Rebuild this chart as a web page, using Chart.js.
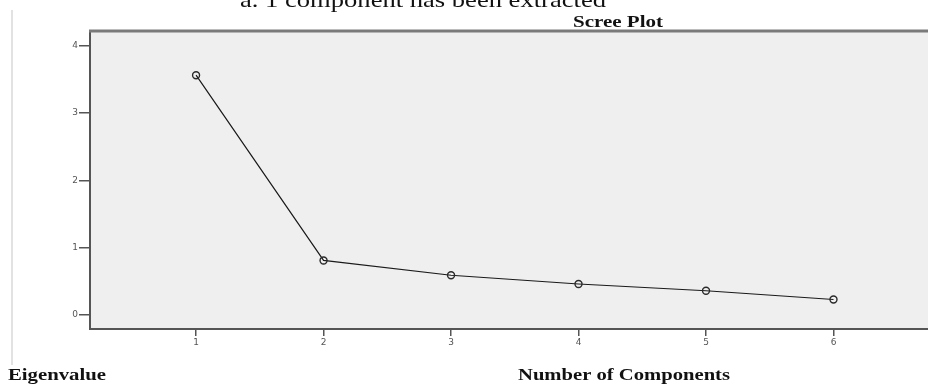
<!DOCTYPE html>
<html>
<head>
<meta charset="utf-8">
<script src="https://cdn.jsdelivr.net/npm/chart.js@4/dist/chart.umd.min.js"></script>
<style>
  html, body { margin: 0; padding: 0; background: #ffffff; }
  #wrap { position: relative; width: 928px; height: 390px; }
</style>
</head>
<body>
<div id="wrap"><canvas id="c" width="928" height="390"></canvas></div>
<script>
// ---- data ----
const components = [1, 2, 3, 4, 5, 6];
const eigenvalues = [3.56, 0.81, 0.59, 0.46, 0.36, 0.23];
const yTicks = [0, 1, 2, 3, 4];
const xTicks = [1, 2, 3, 4, 5, 6];
const noteText = "a. 1 component has been extracted";
const titleText = "Scree Plot";
const yTitleText = "Eigenvalue";
const xTitleText = "Number of Components";

const points = components.map((c, i) => ({ x: c, y: eigenvalues[i] }));

function stretchedText(ctx, text, x, baseline, font, targetW, color) {
  ctx.save();
  ctx.font = font;
  ctx.fillStyle = color;
  ctx.textBaseline = 'alphabetic';
  ctx.textAlign = 'left';
  const w = ctx.measureText(text).width;
  ctx.translate(x, baseline);
  ctx.scale(targetW / w, 1);
  ctx.fillText(text, 0, 0);
  ctx.restore();
}

const decor = {
  id: 'decor',
  beforeDraw(chart) {
    const { ctx, chartArea: a } = chart;
    ctx.save();
    // plot panel continues to the right edge of the picture
    ctx.fillStyle = '#efefef';
    ctx.fillRect(a.left, a.top, chart.width - a.left, a.bottom - a.top);
    ctx.strokeStyle = '#e2e2e2';
    ctx.lineWidth = 2;
    ctx.beginPath();
    ctx.moveTo(12, 10);
    ctx.lineTo(12, 365);
    ctx.stroke();
    ctx.restore();
  },
  afterDraw(chart) {
    const { ctx, chartArea: a } = chart;
    ctx.save();
    ctx.strokeStyle = '#7a7a7a';
    ctx.lineWidth = 3;
    ctx.beginPath();
    ctx.moveTo(a.left - 1, a.top);
    ctx.lineTo(chart.width, a.top);
    ctx.stroke();
    // bottom axis line continues to the edge
    ctx.strokeStyle = '#555';
    ctx.lineWidth = 2;
    ctx.beginPath();
    ctx.moveTo(a.right - 1, a.bottom);
    ctx.lineTo(chart.width, a.bottom);
    ctx.stroke();
    ctx.restore();
    stretchedText(ctx, noteText, 240, 7, '22px "Liberation Serif", "Times New Roman", serif', 366, '#111');
    stretchedText(ctx, titleText, 573, 27, 'bold 17px "Liberation Serif", "Times New Roman", serif', 90, '#111');
    stretchedText(ctx, yTitleText, 8, 380, 'bold 17px "Liberation Serif", "Times New Roman", serif', 98, '#111');
    stretchedText(ctx, xTitleText, 518, 380, 'bold 17px "Liberation Serif", "Times New Roman", serif', 212, '#111');
  }
};

new Chart(document.getElementById('c'), {
  type: 'scatter',
  data: {
    datasets: [{
      data: points,
      showLine: true,
      borderColor: '#1a1a1a',
      borderWidth: 1.2,
      pointStyle: 'circle',
      pointRadius: 3.5,
      pointBorderWidth: 1.4,
      pointBorderColor: '#2a2a2a',
      pointBackgroundColor: 'rgba(0,0,0,0)',
      tension: 0
    }]
  },
  options: {
    responsive: false,
    animation: false,
    devicePixelRatio: 1,
    layout: { padding: { top: 31, right: 0, bottom: 0, left: 0 } },
    plugins: { legend: { display: false }, tooltip: { enabled: false }, title: { display: false } },
    scales: {
      x: {
        type: 'linear',
        min: 0.168,
        max: 6.699,
        afterFit(s) { s.height = 61; },
        afterBuildTicks(s) { s.ticks = xTicks.map(v => ({ value: v })); },
        grid: { drawOnChartArea: false, tickLength: 7, color: '#555', lineWidth: 1.5 },
        border: { display: true, color: '#555', width: 2 },
        ticks: { padding: 1, color: '#555', font: { family: 'DejaVu Sans', size: 9 }, maxRotation: 0 }
      },
      y: {
        type: 'linear',
        min: -0.208,
        max: 4.216,
        afterFit(s) { s.width = 90; },
        afterBuildTicks(s) { s.ticks = yTicks.map(v => ({ value: v })); },
        grid: { drawOnChartArea: false, tickLength: 11, color: '#555', lineWidth: 1.5 },
        border: { display: true, color: '#555', width: 2 },
        ticks: { padding: 1, color: '#555', font: { family: 'DejaVu Sans', size: 9 } }
      }
    }
  },
  plugins: [decor]
});
</script>
</body>
</html>
